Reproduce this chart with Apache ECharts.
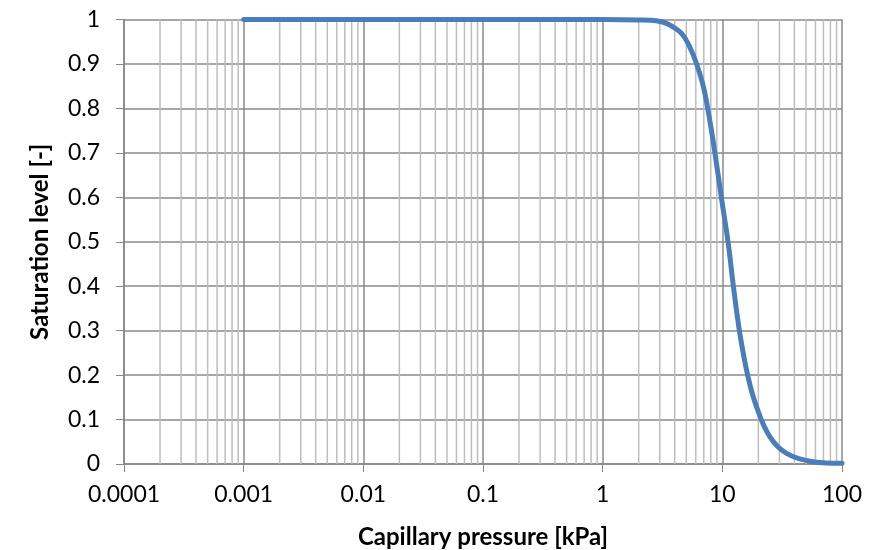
<!DOCTYPE html>
<html>
<head>
<meta charset="utf-8">
<script src="https://cdn.jsdelivr.net/npm/echarts@6/dist/echarts.min.js"></script>
<style>
  html, body { margin: 0; padding: 0; background: #fff; }
  #chart { width: 875px; height: 550px; }
</style>
</head>
<body>
<div id="chart"></div>
<script>
// Water retention curve: saturation vs. capillary pressure (kPa), log x axis
const pressureKPa = [0.001, 0.01, 0.1, 1, 2, 2.8, 3.5, 4.55, 5.3, 6.08, 7.0, 8.0, 9.0, 10.0, 11.2, 12.3, 14.0, 16.4, 19.3, 25, 34.4, 57.5, 100];
const saturation  = [1, 1, 1, 1, 0.999, 0.997, 0.99, 0.969, 0.94, 0.901, 0.845, 0.76, 0.67, 0.585, 0.497, 0.405, 0.294, 0.196, 0.129, 0.061, 0.024, 0.005, 0.0015];

const xTickLabels = ['0.0001', '0.001', '0.01', '0.1', '1', '10', '100'];
const yTickLabels = ['0', '0.1', '0.2', '0.3', '0.4', '0.5', '0.6', '0.7', '0.8', '0.9', '1'];

// Minor log gridlines at 2..9 within each decade
const decades = [0.0001, 0.001, 0.01, 0.1, 1, 10];
const minorSteps = [2, 3, 4, 5, 6, 7, 8, 9];

// vertical segments from y=0 to y=1, separated by gaps
const minorGrid = [];
decades.forEach(d => minorSteps.forEach(m => {
  const x = +(d * m).toPrecision(3);
  minorGrid.push([x, 0], [x, 1], [x, '-']);
}));

const FONT = 'Lato';
const chart = echarts.init(document.getElementById('chart'));

chart.setOption({
  animation: false,
  backgroundColor: '#ffffff',
  grid: { left: 124, right: 33, top: 19.5, bottom: 86, containLabel: false, outerBoundsMode: 'none' },
  xAxis: {
    type: 'log',
    logBase: 10,
    min: 0.0001,
    max: 100,
    name: 'Capillary pressure [kPa]',
    nameLocation: 'middle',
    nameGap: 61,
    nameTextStyle: { fontFamily: FONT, fontSize: 24, fontWeight: 'bold', color: '#000' },
    axisLine: { show: true, lineStyle: { color: '#868686', width: 1.5 } },
    axisTick: { show: true, length: 8, inside: false, lineStyle: { color: '#868686', width: 1 } },
    axisLabel: {
      margin: 19,
      fontFamily: FONT, fontSize: 23, color: '#000',
      formatter: v => xTickLabels[Math.round(Math.log10(v)) + 4]
    },
    splitLine: { show: true, lineStyle: { color: '#8a8a8a', width: 1.5 } },
    minorTick: { show: false },
    minorSplitLine: { show: false }
  },
  yAxis: {
    type: 'value',
    min: 0,
    max: 1,
    interval: 0.1,
    name: 'Saturation level [-]',
    nameLocation: 'middle',
    nameGap: 72,
    nameRotate: 90,
    nameTextStyle: { fontFamily: FONT, fontSize: 24, fontWeight: 'bold', color: '#000' },
    axisLine: { show: true, lineStyle: { color: '#868686', width: 1.5 } },
    axisTick: { show: true, length: 8, inside: false, lineStyle: { color: '#868686', width: 1 } },
    axisLabel: {
      margin: 24,
      fontFamily: FONT, fontSize: 23, color: '#000',
      formatter: v => yTickLabels[Math.round(v * 10)]
    },
    splitLine: { show: true, lineStyle: { color: '#8a8a8a', width: 1.5 } }
  },
  series: [
    {
      // minor vertical gridlines
      type: 'line',
      data: minorGrid,
      z: 1,
      silent: true,
      connectNulls: false,
      showSymbol: false,
      symbol: 'none',
      lineStyle: { color: '#bdbdbd', width: 1.5 },
      emphasis: { disabled: true }
    },
    {
      type: 'line',
      z: 5,
      data: pressureKPa.map((p, i) => [p, saturation[i]]),
      smooth: 0.4,
      showSymbol: false,
      symbol: 'none',
      clip: false,
      lineStyle: { color: '#4a7ebb', width: 5, cap: 'round', join: 'round' }
    }
  ]
});
</script>
</body>
</html>
